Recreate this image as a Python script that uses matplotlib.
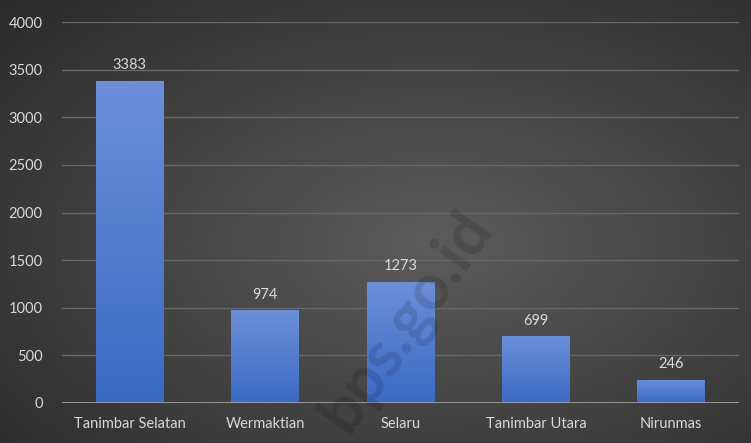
import numpy as np
import matplotlib
matplotlib.use("Agg")
import matplotlib.pyplot as plt

kecamatan = ["Tanimbar Selatan", "Wermaktian", "Selaru", "Tanimbar Utara", "Nirunmas"]
jumlah = [3383, 974, 1273, 699, 246]
yticks = [0, 500, 1000, 1500, 2000, 2500, 3000, 3500, 4000]

plt.rcParams['font.family'] = ['Lato', 'DejaVu Sans']

fig = plt.figure(figsize=(7.51, 4.43), dpi=100)

# dark radial background
bg = fig.add_axes([0, 0, 1, 1], zorder=-10)
yy, xx = np.mgrid[0:1:300j, 0:1:500j]
r = np.sqrt(((xx - 0.58) / 0.9) ** 2 + ((yy - 0.45) / 0.9) ** 2)
g = 0.36 - 0.22 * r
bg.imshow(np.dstack([g, g, g]), extent=[0, 1, 0, 1], aspect='auto', origin='lower')
bg.axis('off')

ax = fig.add_axes([62 / 751, 40 / 443, 677 / 751, 381 / 443])
ax.patch.set_alpha(0)
x = np.arange(len(kecamatan))
bars = ax.bar(x, jumlah, width=0.5, color='#4f7bd0', zorder=3)

# vertical gradient fill for bars
grad = np.linspace(0, 1, 256).reshape(-1, 1)
top = np.array([0x6c, 0x8f, 0xd8]) / 255
bot = np.array([0x3a, 0x6a, 0xc4]) / 255
cols = bot + (top - bot) * grad[..., None]
for b in bars:
    im = ax.imshow(cols, extent=[b.get_x(), b.get_x() + b.get_width(), 0, b.get_height()],
                   aspect='auto', origin='lower', zorder=4)
    im.set_clip_path(b)

for xi, v in zip(x, jumlah):
    ax.text(xi, v + 90, str(v), ha='center', va='bottom', color='#d9d9d9', fontsize=10.5, zorder=5)

ax.set_xlim(-0.5, len(kecamatan) - 0.5)
ax.set_ylim(0, 4000)
ax.set_yticks(yticks)
ax.set_xticks(x)
ax.set_xticklabels(kecamatan)
ax.tick_params(colors='#d9d9d9', labelsize=10.5, length=0)
ax.tick_params(axis='x', pad=10)
ax.tick_params(axis='y', pad=14)
ax.grid(axis='y', color='#686868', linewidth=1, zorder=0)
for s in ax.spines.values():
    s.set_visible(False)
ax.axhline(0, color='#a6a6a6', linewidth=1.2, zorder=6)

fig.text(0.54, 0.275, "bps.go.id", rotation=55, fontsize=46, fontweight='bold',
         color='black', alpha=0.13, ha='center', va='center', zorder=20)

fig.savefig("out.png", dpi=100)
